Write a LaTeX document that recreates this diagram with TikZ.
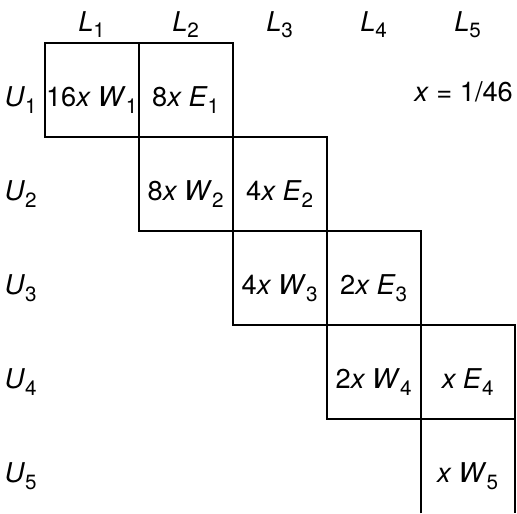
\documentclass[tikz,border=0pt]{standalone}
\usepackage{fontspec}
\setmainfont{TeX Gyre Heros}
\newcommand{\idx}[1]{\raisebox{-0.45ex}{\fontsize{12.5}{13}\selectfont #1}}
\tikzset{
  cell/.style={draw, rectangle, line width=1.1pt, minimum size=2cm, inner sep=0pt, outer sep=0pt, text height=20pt, text depth=0pt},
  lbl/.style={inner sep=0pt, text height=20pt, text depth=0pt},
}
\begin{document}
\begin{tikzpicture}[x=2cm,y=2cm,font=\fontsize{16.5}{19}\selectfont]
\useasboundingbox (0,0) rectangle (5.5,-5.468);
\node[cell] (w1) at (0.975,-0.96) {16\textit{x W}\idx{1}};
\node[cell] (e1) at (1.975,-0.96) {8\textit{x E}\idx{1}};
\node[cell] (w2) at (1.975,-1.96) {8\textit{x W}\idx{2}};
\node[cell] (e2) at (2.975,-1.96) {4\textit{x E}\idx{2}};
\node[cell] (w3) at (2.975,-2.96) {4\textit{x W}\idx{3}};
\node[cell] (e3) at (3.975,-2.96) {2\textit{x E}\idx{3}};
\node[cell] (w4) at (3.975,-3.96) {2\textit{x W}\idx{4}};
\node[cell] (e4) at (4.975,-3.96) {\textit{x E}\idx{4}};
\node[cell, draw=none] (w5) at (4.975,-4.96) {\textit{x W}\idx{5}};
\draw[line width=1.1pt] (w5.south west) -- (w5.north west) -- (w5.north east) -- (w5.south east);

\node[anchor=base] (l1) at (0.975,-0.33) {\textit{L}\idx{1}};
\node[anchor=base] (l2) at (1.975,-0.33) {\textit{L}\idx{2}};
\node[anchor=base] (l3) at (2.975,-0.33) {\textit{L}\idx{3}};
\node[anchor=base] (l4) at (3.975,-0.33) {\textit{L}\idx{4}};
\node[anchor=base] (l5) at (4.975,-0.33) {\textit{L}\idx{5}};

\node[lbl] (u1) at (0.22,-0.96) {\textit{U}\idx{1}};
\node[lbl] (u2) at (0.22,-1.96) {\textit{U}\idx{2}};
\node[lbl] (u3) at (0.22,-2.96) {\textit{U}\idx{3}};
\node[lbl] (u4) at (0.22,-3.96) {\textit{U}\idx{4}};
\node[lbl] (u5) at (0.22,-4.96) {\textit{U}\idx{5}};

\node[anchor=base east, inner sep=0pt] (xval) at (5.46,-1.085) {\textit{x} = 1/46};
\end{tikzpicture}
\end{document}
